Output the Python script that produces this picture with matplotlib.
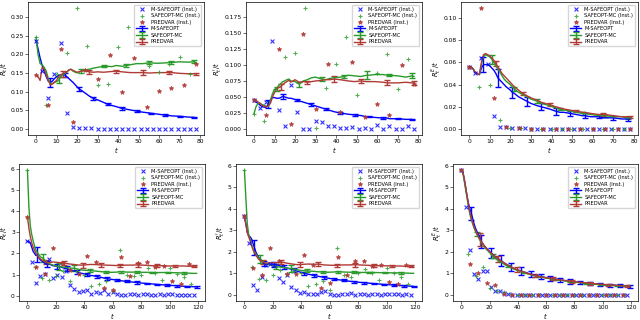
import matplotlib
matplotlib.use("Agg")
import matplotlib.pyplot as plt
from matplotlib.ticker import MultipleLocator
import numpy as np

grid_top = [0, 1, 2, 3, 4, 5, 6, 7, 8, 9, 10, 11, 12, 13, 14, 15, 16, 17, 18, 20, 21, 22, 24, 26, 28, 30,
            33, 35, 37, 39, 42, 44, 46, 49, 52, 55, 56, 59, 63, 65, 66, 70, 74, 77, 78]
grid_bot = [0, 1, 2, 3, 4, 5, 6, 7, 8, 9, 10, 11, 12, 13, 14, 15, 16, 18, 21, 22, 24, 26, 28, 30, 33, 35,
            37, 39, 42, 44, 46, 49, 52, 55, 56, 59, 63, 65, 66, 70, 74, 77, 78, 81, 84, 88, 91, 95, 98, 99,
            104, 105, 108, 110, 112, 114, 117, 119]

methods = ["M-SAFEOPT", "SAFEOPT-MC", "PREDVAR"]
ylabels = [r"$R_t\,/t$", r"$R^{\prime}_t\,/t$", r"$R^{E}_t\,/t$",
           r"$R_t\,/t$", r"$R^{\prime}_t\,/t$", r"$R^{E}_t\,/t$"]

# ---------- panel 1 ----------
avg1_blue = [0.237, 0.215, 0.19, 0.17, 0.155, 0.14, 0.128, 0.125, 0.128, 0.135, 0.14, 0.143, 0.145, 0.146, 0.145,
             0.14, 0.135, 0.13, 0.125, 0.113, 0.107, 0.104, 0.096, 0.088, 0.082, 0.078, 0.071, 0.066, 0.063, 0.06,
             0.055, 0.053, 0.051, 0.048, 0.045, 0.043, 0.042, 0.04, 0.037, 0.036, 0.035, 0.034, 0.032, 0.031, 0.030]
avg1_green = [0.245, 0.2, 0.175, 0.172, 0.165, 0.155, 0.135, 0.12, 0.122, 0.125, 0.127, 0.13, 0.14, 0.145, 0.148,
              0.152, 0.158, 0.16, 0.155, 0.15, 0.153, 0.155, 0.158, 0.16, 0.163, 0.165, 0.168, 0.168, 0.167, 0.17,
              0.168, 0.17, 0.172, 0.175, 0.175, 0.177, 0.177, 0.176, 0.177, 0.178, 0.178, 0.18, 0.179, 0.18, 0.178]
avg1_red = [0.145, 0.14, 0.13, 0.165, 0.16, 0.145, 0.13, 0.118, 0.12, 0.125, 0.13, 0.14, 0.145, 0.148, 0.15,
            0.153, 0.158, 0.16, 0.157, 0.152, 0.153, 0.155, 0.156, 0.153, 0.152, 0.153, 0.152, 0.153, 0.154, 0.155,
            0.153, 0.152, 0.151, 0.151, 0.151, 0.15, 0.15, 0.151, 0.151, 0.151, 0.151, 0.149, 0.148, 0.148, 0.148]
err1_blue = [0.012, 0.005, 0.005, 0.004, 0.003, 0.003, 0.002, 0.002, 0.002, 0.002, 0.002]
err1_green = [0.008, 0.005, 0.003, 0.003, 0.004, 0.003, 0.004]
err1_red = [0.008, 0.006, 0.004, 0.006, 0.003, 0.003]
inst1_blue = [0.237, 0.155, 0.082, 0.146, 0.229, 0.042, 0.006, 0.003, 0.002, 0.002, 0.001, 0.001, 0.001, 0.001,
              0.001, 0.001, 0.001, 0.001, 0.001, 0.0, 0.0, 0.0, 0.0, 0.0, 0.0, 0.0, 0.0]
inst1_green = [0.246, 0.064, 0.148, 0.203, 0.324, 0.223, 0.119, 0.121, 0.22, 0.274, 0.26, 0.17, 0.152, 0.175,
               0.194, 0.146]
inst1_red = [0.145, 0.065, 0.215, 0.018, 0.157, 0.134, 0.198, 0.098, 0.19, 0.058, 0.101, 0.111, 0.117, 0.175]

# ---------- panel 2 ----------
avg2_blue = [0.043, 0.042, 0.04, 0.037, 0.035, 0.034, 0.034, 0.039, 0.045, 0.049, 0.049, 0.048, 0.048, 0.049,
             0.051, 0.05, 0.049, 0.048, 0.048, 0.046, 0.045, 0.044, 0.042, 0.04, 0.038, 0.036, 0.033, 0.031, 0.029,
             0.027, 0.025, 0.024, 0.023, 0.022, 0.021, 0.019, 0.019, 0.018, 0.017, 0.017, 0.016, 0.016, 0.015,
             0.015, 0.014]
avg2_green = [0.024, 0.035, 0.04, 0.04, 0.038, 0.037, 0.035, 0.035, 0.045, 0.055, 0.062, 0.063, 0.068, 0.071,
              0.074, 0.075, 0.077, 0.078, 0.075, 0.074, 0.072, 0.070, 0.075, 0.077, 0.080, 0.081, 0.078, 0.077,
              0.079, 0.08, 0.081, 0.082, 0.084, 0.083, 0.082, 0.084, 0.084, 0.085, 0.085, 0.084, 0.084, 0.083,
              0.081, 0.083, 0.082]
avg2_red = [0.046, 0.045, 0.042, 0.04, 0.037, 0.035, 0.035, 0.036, 0.04, 0.05, 0.057, 0.062, 0.065, 0.066, 0.07,
            0.072, 0.074, 0.076, 0.073, 0.077, 0.075, 0.073, 0.074, 0.073, 0.074, 0.075, 0.076, 0.077, 0.077, 0.078,
            0.077, 0.076, 0.075, 0.074, 0.075, 0.074, 0.074, 0.074, 0.073, 0.072, 0.072, 0.072, 0.073, 0.072, 0.072]
err2_blue = [0.006, 0.004, 0.002, 0.002, 0.001, 0.001, 0.001, 0.001, 0.001, 0.001, 0.001]
err2_green = [0.003, 0.004, 0.003, 0.003, 0.006, 0.002, 0.004]
err2_red = [0.005, 0.002, 0.005, 0.003, 0.004, 0.003]
inst2_blue = [0.045, 0.033, 0.042, 0.138, 0.030, 0.005, 0.069, 0.026, 0.0, 0.0, 0.012, 0.011, 0.005, 0.005, 0.001,
              0.001, 0.003, 0.0, 0.002, 0.0, 0.006, 0.0, 0.005, 0.0, 0.0, 0.005, 0.0]
inst2_green = [0.024, 0.013, 0.063, 0.113, 0.118, 0.189, 0.002, 0.064, 0.101, 0.143, 0.053, 0.155, 0.087, 0.117,
               0.062, 0.109]
inst2_red = [0.046, 0.022, 0.125, 0.008, 0.149, 0.031, 0.102, 0.027, 0.104, 0.018, 0.039, 0.022, 0.1, 0.07]

# ---------- panel 3 ----------
avg3_blue = [0.056, 0.056, 0.054, 0.051, 0.05, 0.049, 0.055, 0.058, 0.058, 0.058, 0.057, 0.055, 0.053, 0.05, 0.046,
             0.044, 0.042, 0.04, 0.038, 0.035, 0.033, 0.032, 0.029, 0.027, 0.025, 0.023, 0.021, 0.02, 0.019, 0.018,
             0.016, 0.015, 0.015, 0.014, 0.013, 0.012, 0.012, 0.011, 0.011, 0.010, 0.010, 0.010, 0.009, 0.009, 0.009]
avg3_green = [0.056, 0.056, 0.054, 0.051, 0.05, 0.049, 0.058, 0.065, 0.067, 0.066, 0.065, 0.063, 0.06, 0.057,
              0.054, 0.051, 0.048, 0.045, 0.043, 0.04, 0.038, 0.036, 0.033, 0.031, 0.029, 0.027, 0.025, 0.023,
              0.022, 0.021, 0.019, 0.018, 0.017, 0.016, 0.015, 0.014, 0.014, 0.013, 0.012, 0.012, 0.012, 0.011,
              0.011, 0.010, 0.010]
avg3_red = [0.056, 0.056, 0.054, 0.051, 0.05, 0.049, 0.06, 0.067, 0.068, 0.067, 0.066, 0.064, 0.062, 0.059, 0.056,
            0.053, 0.05, 0.048, 0.046, 0.042, 0.04, 0.038, 0.035, 0.032, 0.03, 0.028, 0.026, 0.024, 0.023, 0.022,
            0.02, 0.019, 0.018, 0.017, 0.016, 0.015, 0.015, 0.014, 0.013, 0.013, 0.013, 0.012, 0.011, 0.011, 0.011]
err3_blue = [0.007, 0.008, 0.005, 0.004, 0.003, 0.003, 0.002, 0.002, 0.0015, 0.0015, 0.0015]
err3_green = [0.004, 0.002, 0.002, 0.001, 0.001, 0.001, 0.001]
err3_red = [0.002, 0.001, 0.001, 0.001, 0.001, 0.001]
inst3_blue = [0.056, 0.05, 0.064, 0.059, 0.012, 0.002, 0.0015, 0.001, 0.0005, 0.0005] + [0.0] * 17
inst3_green = [0.056, 0.038, 0.040, 0.0085, 0.001, 0.0005] + [0.0] * 10
inst3_red = [0.056, 0.109, 0.028, 0.0015, 0.001] + [0.0] * 9

# ---------- panel 4 ----------
avg4_blue = [2.57, 2.57, 2.5, 2.3, 2.1, 2.0, 1.9, 1.95, 1.8, 1.7, 1.65, 1.6, 1.55, 1.5, 1.5, 1.5, 1.48,
             1.42, 1.4, 1.38, 1.35, 1.3, 1.27, 1.22, 1.17, 1.13, 1.08, 1.05, 1.0, 0.97, 0.95, 0.91, 0.87, 0.82,
             0.81, 0.78, 0.74, 0.72, 0.71, 0.68, 0.65, 0.63, 0.62, 0.6, 0.58, 0.56, 0.54, 0.52, 0.5, 0.5, 0.48,
             0.47, 0.46, 0.45, 0.44, 0.44, 0.43, 0.42]
avg4_green = [5.93, 4.2, 3.3, 2.9, 2.6, 2.35, 2.15, 2.05, 1.95, 1.85, 1.8, 1.78, 1.7, 1.63, 1.57, 1.52, 1.5,
              1.45, 1.4, 1.38, 1.37, 1.35, 1.33, 1.31, 1.3, 1.27, 1.24, 1.21, 1.2, 1.2, 1.18, 1.16, 1.14, 1.12,
              1.12, 1.11, 1.12, 1.14, 1.14, 1.12, 1.12, 1.12, 1.12, 1.11, 1.11, 1.1, 1.1, 1.1, 1.1, 1.1, 1.09,
              1.09, 1.08, 1.08, 1.07, 1.07, 1.06, 1.06]
avg4_red = [3.73, 3.2, 2.8, 2.5, 2.3, 2.15, 2.0, 1.9, 1.8, 1.75, 1.7, 1.66, 1.62, 1.6, 1.58, 1.57, 1.57,
            1.6, 1.58, 1.57, 1.56, 1.55, 1.52, 1.5, 1.48, 1.46, 1.45, 1.45, 1.47, 1.48, 1.48, 1.47, 1.46, 1.45,
            1.45, 1.44, 1.43, 1.43, 1.44, 1.45, 1.45, 1.46, 1.46, 1.45, 1.44, 1.42, 1.42, 1.42, 1.41, 1.41, 1.41,
            1.41, 1.41, 1.41, 1.4, 1.4, 1.4, 1.4]
err4_blue = [0.35, 0.15, 0.12, 0.12, 0.1, 0.08, 0.08, 0.07, 0.06, 0.05, 0.05, 0.04, 0.04, 0.04, 0.03, 0.03, 0.03]
err4_green = [0.2, 0.15, 0.15, 0.06, 0.05, 0.04, 0.04, 0.03, 0.03, 0.04]
err4_red = [0.1, 0.1, 0.12, 0.08, 0.06, 0.08, 0.07, 0.04, 0.04]
inst4_blue = [2.57, 1.6, 0.6, 0.93, 1.05, 1.75, 0.85, 1.0, 0.9, 1.15, 0.52, 0.3, 0.18, 0.22, 0.28, 0.07, 0.2, 0.12,
              0.28, 0.08, 0.2, 0.1, 0.05, 0.05, 0.08, 0.1, 0.05, 0.1, 0.1, 0.05, 0.05, 0.1, 0.05, 0.08, 0.1, 0.05,
              0.05, 0.05, 0.06, 0.06]
inst4_green = [5.93, 1.35, 0.85, 0.75, 0.92, 1.17, 0.68, 1.18, 1.0, 0.48, 0.57, 0.68, 0.25, 2.17, 1.0, 0.95, 1.0,
               1.3, 1.1, 0.75, 1.3, 1.05, 0.88, 0.55]
inst4_red = [3.73, 1.34, 1.03, 2.24, 1.57, 1.2, 1.05, 1.87, 1.6, 0.35, 0.28, 1.85, 0.95, 1.57, 1.62, 1.35, 1.4, 0.7,
             0.56, 1.5]

# ---------- panel 5 ----------
avg5_blue = [3.6, 3.3, 2.9, 2.75, 2.7, 2.6, 2.4, 2.2, 2.0, 1.85, 1.75, 1.65, 1.6, 1.5, 1.45, 1.42, 1.42,
             1.42, 1.42, 1.4, 1.37, 1.32, 1.28, 1.24, 1.19, 1.15, 1.1, 1.06, 1.0, 0.97, 0.94, 0.9, 0.86, 0.82,
             0.81, 0.77, 0.73, 0.71, 0.7, 0.67, 0.63, 0.61, 0.6, 0.58, 0.56, 0.54, 0.52, 0.5, 0.48, 0.48, 0.46,
             0.45, 0.44, 0.43, 0.42, 0.41, 0.4, 0.39]
avg5_green = [5.8, 4.5, 3.3, 2.8, 2.6, 2.35, 2.15, 2.0, 1.9, 1.8, 1.72, 1.67, 1.6, 1.55, 1.5, 1.45, 1.42,
              1.4, 1.33, 1.3, 1.3, 1.28, 1.26, 1.24, 1.22, 1.2, 1.17, 1.14, 1.12, 1.11, 1.1, 1.09, 1.07, 1.06,
              1.06, 1.05, 1.06, 1.07, 1.07, 1.06, 1.05, 1.05, 1.05, 1.04, 1.04, 1.04, 1.04, 1.03, 1.03, 1.03,
              1.02, 1.02, 1.02, 1.02, 1.01, 1.01, 1.0, 1.0]
avg5_red = [3.65, 3.3, 2.9, 2.7, 2.5, 2.3, 2.1, 1.95, 1.85, 1.75, 1.65, 1.6, 1.55, 1.52, 1.5, 1.48, 1.47,
            1.5, 1.5, 1.49, 1.5, 1.52, 1.5, 1.47, 1.44, 1.42, 1.4, 1.4, 1.42, 1.43, 1.43, 1.42, 1.43, 1.4, 1.39,
            1.38, 1.37, 1.37, 1.38, 1.39, 1.39, 1.4, 1.4, 1.39, 1.38, 1.37, 1.36, 1.35, 1.35, 1.35, 1.34, 1.34,
            1.34, 1.34, 1.33, 1.33, 1.33, 1.33]
err5_blue = [0.35, 0.1, 0.12, 0.1, 0.1, 0.08, 0.08, 0.07, 0.06, 0.05, 0.05, 0.05, 0.04, 0.04, 0.04, 0.04, 0.04]
err5_green = [0.2, 0.12, 0.15, 0.07, 0.05, 0.04, 0.04, 0.03, 0.03, 0.03]
err5_red = [0.1, 0.1, 0.12, 0.1, 0.07, 0.1, 0.08, 0.05, 0.04]
inst5_blue = [3.65, 2.4, 0.45, 0.2, 0.82, 1.4, 1.45, 1.37, 0.78, 0.6, 0.92, 0.36, 0.2, 0.1, 0.15, 0.02, 0.02,
              0.05, 0.15, 0.17, 0.02, 0.0, 0.0, 0.02, 0.05, 0.1, 0.0, 0.02, 0.05, 0.0, 0.02, 0.05, 0.0, 0.02,
              0.02, 0.05, 0.02, 0.0, 0.02, 0.0]
inst5_green = [5.8, 1.3, 0.75, 0.7, 0.93, 1.16, 0.97, 1.13, 1.0, 0.42, 0.5, 0.63, 0.2, 2.17, 0.92, 0.85, 1.0,
               1.2, 1.0, 0.67, 1.27, 1.0, 0.82, 0.5]
inst5_red = [3.65, 1.25, 0.94, 2.18, 1.58, 0.95, 0.95, 1.83, 1.4, 0.3, 0.55, 1.75, 0.92, 1.57, 1.55, 1.33, 1.4,
             0.6, 0.48, 1.4]

# ---------- panel 6 ----------
avg6_blue = [5.75, 5.7, 5.4, 5.0, 4.6, 4.25, 4.0, 3.8, 3.55, 3.3, 3.1, 2.95, 2.8, 2.65, 2.5, 2.4, 2.3,
             2.15, 1.95, 1.9, 1.78, 1.68, 1.6, 1.5, 1.38, 1.3, 1.23, 1.18, 1.12, 1.07, 1.03, 0.97, 0.93, 0.87,
             0.86, 0.82, 0.77, 0.75, 0.74, 0.7, 0.66, 0.63, 0.62, 0.6, 0.58, 0.55, 0.53, 0.51, 0.49, 0.49, 0.46,
             0.46, 0.45, 0.44, 0.43, 0.42, 0.41, 0.4]
avg6_green = [5.8, 5.7, 5.3, 4.9, 4.5, 4.1, 3.75, 3.5, 3.3, 3.1, 2.95, 2.83, 2.7, 2.55, 2.45, 2.35, 2.25,
              2.1, 1.9, 1.8, 1.7, 1.6, 1.52, 1.44, 1.33, 1.27, 1.21, 1.16, 1.09, 1.04, 1.0, 0.94, 0.89, 0.85,
              0.84, 0.8, 0.75, 0.73, 0.72, 0.68, 0.65, 0.62, 0.61, 0.59, 0.57, 0.54, 0.52, 0.5, 0.48, 0.48, 0.46,
              0.45, 0.44, 0.43, 0.42, 0.42, 0.41, 0.4]
avg6_red = [5.8, 5.75, 5.4, 5.0, 4.6, 4.2, 3.85, 3.6, 3.35, 3.15, 3.0, 2.85, 2.7, 2.6, 2.5, 2.4, 2.3,
            2.15, 1.95, 1.9, 1.78, 1.68, 1.58, 1.5, 1.38, 1.31, 1.25, 1.19, 1.11, 1.07, 1.02, 0.96, 0.91, 0.86,
            0.85, 0.81, 0.77, 0.75, 0.74, 0.7, 0.67, 0.64, 0.63, 0.61, 0.59, 0.56, 0.54, 0.52, 0.5, 0.5, 0.47,
            0.47, 0.46, 0.45, 0.44, 0.43, 0.42, 0.41]
err6_blue = [0.3, 0.3, 0.25, 0.25, 0.2, 0.17, 0.15, 0.13, 0.12, 0.1, 0.1, 0.09, 0.08, 0.08, 0.07, 0.07, 0.07]
err6_green = [0.1, 0.1, 0.05, 0.04, 0.03, 0.03, 0.03, 0.03, 0.03, 0.03]
err6_red = [0.3, 0.15, 0.1, 0.08, 0.07, 0.06, 0.06, 0.05, 0.05]
inst6_blue = [5.8, 4.07, 2.08, 0.98, 0.74, 1.1, 1.12, 0.35, 0.2, 0.18, 0.1, 0.03, 0.02, 0.02, 0.02, 0.02] + [0.01] * 24
inst6_green = [5.8, 1.9, 0.88, 1.28, 0.31, 0.17, 0.12, 0.03] + [0.01] * 16
inst6_red = [5.8, 1.46, 1.02, 0.58, 0.45, 0.06, 0.02] + [0.01] * 13

colors = ["b", "#2a9a2a", "#b03a36"]
inst_markers = ["x", "+", "*"]
inst_steps = [3, 5, 6]
err_steps = [7, 11, 13]

panels = [
    (grid_top, [avg1_blue, avg1_green, avg1_red], [err1_blue, err1_green, err1_red], [inst1_blue, inst1_green, inst1_red]),
    (grid_top, [avg2_blue, avg2_green, avg2_red], [err2_blue, err2_green, err2_red], [inst2_blue, inst2_green, inst2_red]),
    (grid_top, [avg3_blue, avg3_green, avg3_red], [err3_blue, err3_green, err3_red], [inst3_blue, inst3_green, inst3_red]),
    (grid_bot, [avg4_blue, avg4_green, avg4_red], [err4_blue, err4_green, err4_red], [inst4_blue, inst4_green, inst4_red]),
    (grid_bot, [avg5_blue, avg5_green, avg5_red], [err5_blue, err5_green, err5_red], [inst5_blue, inst5_green, inst5_red]),
    (grid_bot, [avg6_blue, avg6_green, avg6_red], [err6_blue, err6_green, err6_red], [inst6_blue, inst6_green, inst6_red]),
]

# axes boxes in pixels (left, top, right, bottom) of a 640x320 canvas
boxes = [(28, 2, 204, 135), (246, 2, 422, 135), (461, 2, 638, 135),
         (19, 164, 205, 301), (236, 164, 422, 301), (453, 164, 638, 301)]

fig = plt.figure(figsize=(6.4, 3.2), dpi=100)

for k, (grid, avgs, errs, insts) in enumerate(panels):
    l, t, r, b = boxes[k]
    ax = fig.add_axes([l / 640, 1 - b / 320, (r - l) / 640, (b - t) / 320])
    grid = np.array(grid)

    for m in range(3):
        ts = np.arange(len(insts[m])) * inst_steps[m]
        ax.scatter(ts, insts[m], marker=inst_markers[m], color=colors[m], s=8 if m != 1 else 7,
                   linewidths=0.8, alpha=0.8, label=methods[m] + " (Inst.)", zorder=3)

    for m in range(3):
        pos = np.arange(len(errs[m])) * err_steps[m] + err_steps[m]
        idx = np.searchsorted(grid, pos)
        yerr = np.zeros(len(grid))
        yerr[idx] = errs[m]
        ax.errorbar(grid, avgs[m], yerr=yerr, errorevery=list(idx), color=colors[m], lw=1.0,
                    elinewidth=1.0, capsize=2.0, capthick=1.0, label=methods[m], zorder=2)

    ax.set_xlabel(r"$t$", fontsize=4.8, labelpad=0.3)
    ax.set_ylabel(ylabels[k], fontsize=4.8, labelpad=0.5)
    ax.tick_params(labelsize=4.3, length=2, width=0.4, pad=1)
    for s in ax.spines.values():
        s.set_linewidth(0.5)
    ax.legend(loc="upper right", fontsize=3.7, frameon=True, handlelength=2.2, borderpad=0.4,
              labelspacing=0.3, handletextpad=0.6, fancybox=True, framealpha=0.8, edgecolor="0.8")
    ax.xaxis.set_major_locator(MultipleLocator(10 if grid[-1] < 100 else 20))

fig.savefig("out.png", dpi=100)
